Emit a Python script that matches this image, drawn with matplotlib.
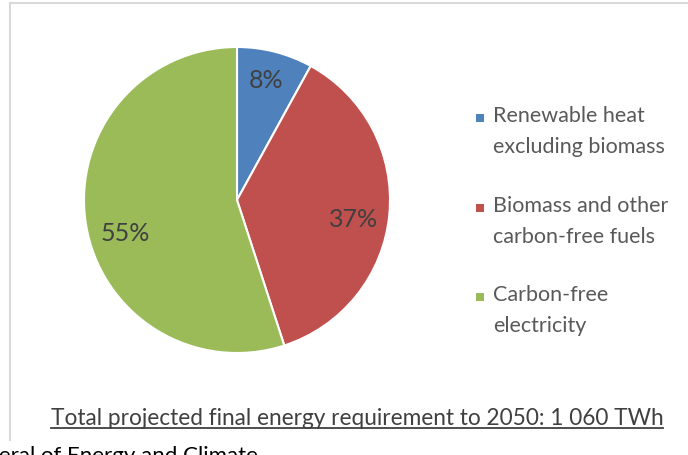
import matplotlib.pyplot as plt
from matplotlib.lines import Line2D
from matplotlib.patches import Rectangle

plt.rcParams['font.family'] = ['Lato', 'DejaVu Sans']

W, H = 688, 455

# Share of final energy by source (%)
sources = ['Renewable heat\nexcluding biomass',
           'Biomass and other\ncarbon-free fuels',
           'Carbon-free\nelectricity']
shares = [8, 37, 55]
colors = ['#4F81BD', '#C0504D', '#9BBB59']
title = 'Total projected final energy requirement to 2050: 1 060 TWh'
footer = 'Directorate General of Energy and Climate'

# where the percentage labels sit, in pie radius units
label_pos = [(0.19, 0.78), (0.76, -0.13), (-0.73, -0.22)]


def fx(px):
    return px / W


def fy(py):
    return 1 - py / H


fig = plt.figure(figsize=(W / 100, H / 100), dpi=100)

# light frame round the chart
frame = dict(color='#d9d9d9', lw=1.5)
fig.add_artist(Line2D([fx(10), fx(10)], [fy(3), fy(440)], **frame))
fig.add_artist(Line2D([fx(10), 1], [fy(3), fy(3)], **frame))

# pie, clockwise from 12 o'clock
ax = fig.add_axes([fx(84), fy(353), 306 / W, 306 / H])
wedges, _, pcts = ax.pie(shares, colors=colors, startangle=90, counterclock=False,
                         autopct='%.0f%%', pctdistance=0.78,
                         wedgeprops=dict(edgecolor='white', linewidth=1.5),
                         textprops=dict(color='#404040', fontsize=18))
for t, pos in zip(pcts, label_pos):
    t.set_position(pos)
ax.set_xlim(-1, 1)
ax.set_ylim(-1, 1)

# legend on the right
legend_top = [106, 196, 285]
for wedge, label, y in zip(wedges, sources, legend_top):
    fig.add_artist(Rectangle((fx(476), fy(y + 16)), 8 / W, 8 / H,
                             transform=fig.transFigure,
                             facecolor=wedge.get_facecolor(), edgecolor='none'))
    fig.text(fx(493), fy(y), label, va='top', ha='left', fontsize=15.5,
             color='#595959', linespacing=1.7)

# underlined caption
cap = fig.text(fx(357), fy(425), title, ha='center', va='baseline',
               fontsize=16.3, color='#404040')
fig.canvas.draw()
bb = cap.get_window_extent()
fig.add_artist(Line2D([bb.x0 / W, bb.x1 / W], [fy(428), fy(428)],
                      color='#404040', lw=1.3))

fig.text(fx(258), fy(446), footer, ha='right', va='top', fontsize=16, color='black')

fig.savefig('out.png', dpi=100)
